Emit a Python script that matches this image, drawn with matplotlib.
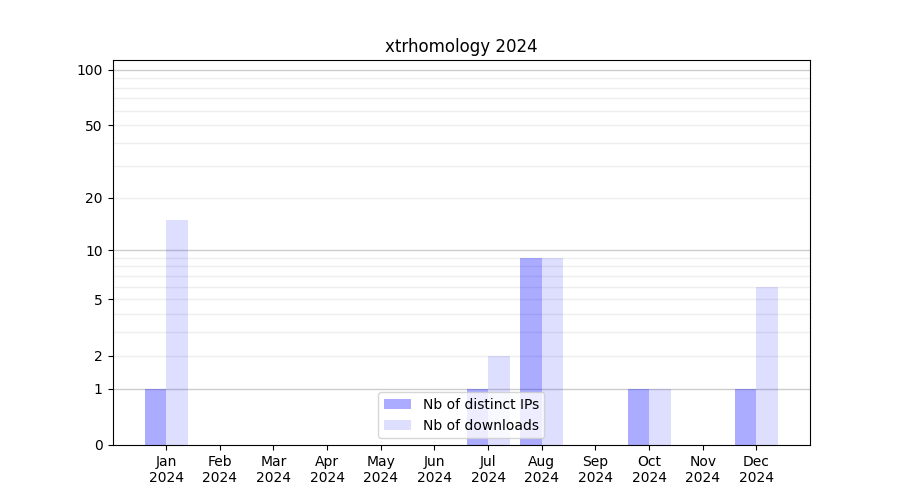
import numpy as np
import matplotlib
matplotlib.use("Agg")
import matplotlib.pyplot as plt

months = ["Jan", "Feb", "Mar", "Apr", "May", "Jun", "Jul", "Aug", "Sep", "Oct", "Nov", "Dec"]
year = "2024"
distinct_ips = [1, 0, 0, 0, 0, 0, 1, 9, 0, 1, 0, 1]
downloads = [15, 0, 0, 0, 0, 0, 2, 9, 0, 1, 0, 6]
yticks = [0, 1, 2, 5, 10, 20, 50, 100]

x = np.arange(len(months))
fig, ax = plt.subplots(figsize=(9, 5), dpi=100)

# log(1+x) scale so zero values fit on the axis
ax.set_yscale("function", functions=(lambda v: np.log10(1 + np.clip(v, 0, None)),
                                      lambda v: 10 ** v - 1))

ax.bar(x - 0.2, distinct_ips, width=0.4, color="blue", alpha=0.33, label="Nb of distinct IPs")
ax.bar(x + 0.2, downloads, width=0.4, color="blue", alpha=0.13, label="Nb of downloads")

major = [1, 10, 100]
minor = [v * d for d in (1, 10) for v in range(2, 10)]
for v in minor:
    ax.axhline(v, color="#eeeeee", lw=1, zorder=0)
for v in major:
    ax.axhline(v, color="#cccccc", lw=1, zorder=0)

ax.set_yticks(yticks)
ax.set_yticklabels([str(t) for t in yticks])
ax.minorticks_off()
ax.set_ylim(0, 113)
ax.set_xlim(-1, 12)
ax.set_xticks(x)
ax.set_xticklabels([f"{m}\n{year}" for m in months])
ax.set_title("xtrhomology 2024")
ax.legend(loc="lower center")

fig.savefig("out.png")
